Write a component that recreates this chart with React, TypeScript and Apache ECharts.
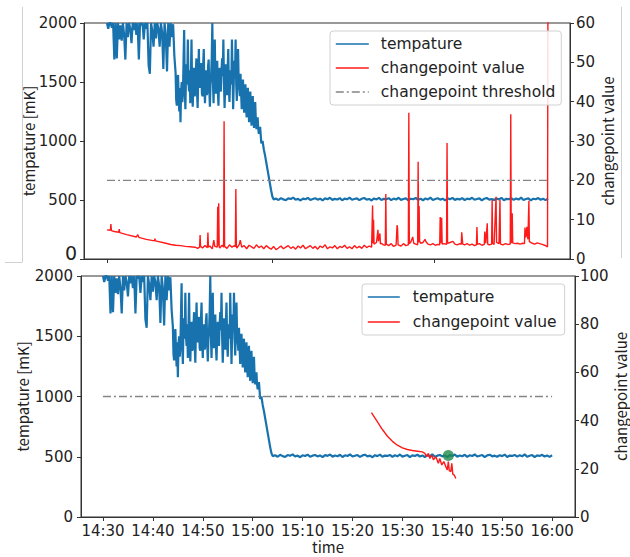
import React, { useEffect, useRef } from "react";
import * as echarts from "echarts";

// ---------------- data ----------------
const TICK_MINUTES = [0, 10, 20, 30, 40, 50, 60, 70, 80, 90];
const TICK_LABELS = ["14:30", "14:40", "14:50", "15:00", "15:10", "15:20", "15:30", "15:40", "15:50", "16:00"];
const TOP_TICK_MINUTES = [0, 33.7, 66.7];

// temperature [mK], minutes after 14:30
const TEMP_EARLY_STEP = 0.25; // t = 0 .. 13.75
const tempEarly = [
  2000, 1950, 2000, 2000, 1960, 2000,
  1690, 2000, 1700, 2000, 1860, 1980, 1850, 2000, 1900, 1690, 2000, 1880, 2000, 1950, 1830, 2000, 1940, 2000, 1900, 2000, 1690, 2000,
  1980, 2000, 1860, 2000, 1950, 2000, 1640, 1570, 2000, 1930, 1800, 2000, 1870, 2000, 1950, 1800, 2000, 1920, 1610, 2000, 1900, 1590, 2000, 1800, 2000, 1880, 1990, 1720,
];
const TEMP_BAND_START = 14.0;
const TEMP_BAND_STEP = 0.125; // t = 14 .. 31
const tempBand = [
  1580, 1350, 1300, 1520, 1560, 1380, 1250, 1450, 1160, 1420,
  1500, 1330, 1400, 1680, 1940, 1450, 1270, 1560, 1650, 1480,
  1860, 1500, 1420, 1600, 1320, 1550, 1860, 1450, 1290, 1500,
  1620, 1380, 1400, 1580, 1700, 1420, 1280, 1550, 1780, 1500,
  1450, 1620, 1660, 1400, 1380, 1640, 1780, 1450, 1320, 1520,
  1600, 1390, 1420, 1630, 1690, 1450, 1290, 1480, 1550, 1700,
  2000, 1500, 1320, 1580, 1860, 1480, 1400, 1620, 1680, 1420,
  1300, 1520, 1620, 1450, 1420, 1600, 1700, 1550, 1860, 1500,
  1280, 1480, 1650, 1420, 1390, 1600, 1780, 1450, 1330, 1520,
  1600, 1480, 1860, 1550, 1270, 1500, 1680, 1550, 1860, 1480,
  1340, 1560, 1780, 1500, 1450, 1380, 1570, 1400, 1270, 1450,
  1520, 1380, 1240, 1420, 1480, 1300, 1200, 1380, 1450, 1280,
  1160, 1320, 1420, 1250, 1130, 1300, 1380, 1220, 1110, 1250,
  1330, 1180, 1100, 1150, 1200, 1100, 1060,
];
const TEMP_DESCENT_START = 31.25;
const TEMP_DESCENT_STEP = 0.25; // t = 31.25 .. 34
const tempDescent = [1120, 980, 1000, 930, 880, 820, 760, 700, 640, 580, 530, 505];
const TEMP_FLAT_START = 34.5;
const TEMP_FLAT_STEP = 0.5; // t = 34.5 .. 90
const tempFlat = [
  512, 500, 516, 505, 498, 514, 508, 520, 502, 510,
  496, 512, 506, 518, 500, 509, 515, 503, 511, 497,
  514, 507, 519, 501, 510, 504, 516, 498, 512, 506,
  520, 502, 508, 514, 499, 511, 517, 503, 509, 496,
  513, 505, 518, 500, 510, 507, 515, 499, 512, 504,
  519, 501, 508, 514, 497, 511, 506, 517, 502, 510,
  498, 513, 505, 520, 500, 509, 515, 503, 511, 496,
  514, 507, 518, 501, 510, 504, 516, 499, 512, 506,
  519, 502, 508, 514, 497, 511, 517, 503, 509, 500,
  513, 505, 518, 498, 510, 507, 515, 501, 512, 504,
  520, 500, 508, 514, 497, 511, 506, 516, 502, 510,
  499, 512,
];

// changepoint value (upper figure): [minute, value]
const cpTop: [number, number][] = [
  [0, 7.4], [0.7, 7.3], [0.8, 8.9], [0.9, 7.2], [1.5, 7.0], [2.4, 6.8], [2.5, 7.6], [2.6, 6.7], [4, 6.2], [6, 5.6], [6.3, 6.2], [6.5, 5.5],
  [8, 5.0], [9.7, 4.6], [9.8, 5.2], [9.9, 4.6], [10, 4.5], [12, 4.0], [13, 3.7], [14, 3.5], [15, 3.4], [16, 3.2], [17, 3.1], [18, 3.0],
  [18.5, 2.7], [18.9, 3.0], [19.0, 6.1], [19.1, 3.2], [19.5, 2.8], [20.0, 3.4], [20.5, 2.9], [20.6, 6.7], [20.7, 3.0], [21.0, 3.3], [21.5, 2.6],
  [21.8, 4.8], [22.0, 3.2], [22.5, 3.0], [22.6, 13.3], [22.7, 3.4], [22.8, 14.2], [22.9, 3.1], [23.0, 2.8], [23.5, 3.5], [23.8, 3.0], [23.9, 35],
  [24.0, 3.2], [24.5, 2.7], [25.0, 3.6], [25.5, 3.0], [26.0, 3.4], [26.2, 3.1], [26.3, 17.8], [26.4, 3.3], [26.5, 2.8], [27.0, 3.7], [27.2, 4.8],
  [27.5, 3.0], [28.0, 3.4], [28.5, 2.6], [29.0, 3.5], [29.5, 3.1], [30.0, 2.7], [30.5, 3.6], [31.0, 2.9], [31.5, 3.3], [32.0, 2.6], [32.5, 3.4],
  [33.0, 2.9], [33.5, 2.5], [34.0, 3.2], [34.5, 2.4], [35.0, 2.8], [35.5, 3.3], [36.0, 2.6], [36.5, 3.0], [37.0, 3.4], [37.5, 2.7], [38.0, 3.1],
  [38.5, 2.5], [39.0, 3.3], [39.5, 2.8], [40.0, 3.5], [40.5, 2.6], [41.0, 3.0], [41.5, 3.4], [42.0, 2.7], [42.5, 3.2], [43.0, 2.5], [43.5, 3.3],
  [44.0, 2.9], [44.5, 3.6], [45.0, 2.6], [45.5, 3.1], [46.0, 2.8], [46.5, 3.4], [47.0, 2.6], [47.5, 3.2], [48.0, 2.9], [48.5, 3.5], [49.0, 2.7],
  [49.5, 3.1], [50.0, 2.6], [50.5, 3.4], [51.0, 2.8], [51.5, 3.2], [52.0, 2.7], [52.5, 3.5], [53.0, 2.9], [53.5, 3.3], [54.0, 3.0],
  [54.2, 13.6], [54.3, 4.0], [54.4, 10.0], [54.5, 3.8], [55.0, 4.2], [55.3, 7.4], [55.4, 4.5], [55.7, 6.5], [55.8, 3.8], [56.0, 4.0], [56.4, 3.6],
  [56.8, 3.5], [56.9, 16.5], [57.0, 3.8], [57.5, 3.4], [58.0, 3.9], [58.5, 3.2], [59.0, 3.5], [59.2, 8.6], [59.3, 7.8], [59.4, 3.6], [60.0, 3.3],
  [60.5, 3.9], [61.0, 3.4], [61.5, 3.6], [61.6, 37.2], [61.7, 3.9], [62.0, 4.3], [62.4, 5.6], [62.6, 4.0], [63.0, 3.8], [63.4, 3.6], [63.5, 24.7],
  [63.6, 4.2], [63.7, 13.5], [63.8, 4.5], [64.0, 4.0], [64.5, 4.2], [64.9, 5.0], [65.1, 4.4], [65.5, 3.8], [66.0, 3.6], [66.5, 3.9], [67.0, 3.5],
  [67.5, 3.7], [67.9, 3.6], [68.0, 10.7], [68.1, 4.0], [68.3, 10.5], [68.4, 3.8], [68.8, 3.9], [69.3, 3.7], [69.4, 29.5], [69.5, 4.0], [70.0, 4.2],
  [70.6, 4.5], [71.0, 3.8], [71.5, 3.6], [72.0, 3.9], [72.3, 3.7], [72.4, 6.8], [72.5, 5.2], [72.6, 3.8], [73.0, 3.6], [73.5, 3.9], [74.0, 3.5],
  [74.5, 3.8], [75.0, 3.4], [75.4, 3.6], [75.5, 8.1], [75.6, 3.7], [76.0, 3.9], [76.5, 3.5], [77.0, 3.7], [77.1, 7.0], [77.3, 4.0], [77.6, 9.1],
  [77.7, 3.8], [78.0, 3.6], [78.5, 3.8], [78.6, 15.0], [78.7, 4.0], [79.0, 3.7], [79.4, 15.8], [79.5, 4.2], [80.0, 3.9], [80.2, 15.0], [80.3, 3.8],
  [80.8, 3.6], [81.3, 3.9], [81.8, 3.7], [82.3, 3.8], [82.4, 36.8], [82.5, 4.0], [82.7, 11.6], [82.8, 4.1], [83.3, 3.9], [83.8, 4.0], [84.3, 3.8],
  [84.8, 4.0], [85.2, 3.9], [85.3, 8.0], [85.5, 5.5], [85.7, 8.2], [85.9, 5.0], [86.1, 14.8], [86.2, 4.4], [86.8, 4.0], [87.3, 3.8], [87.8, 4.1],
  [88.3, 3.9], [88.8, 3.7], [89.3, 3.5], [89.9, 3.1], [90.0, 75],
];

// changepoint value (lower figure): [minute, value]
const cpBottom: [number, number][] = [
  [53.8, 43.3], [55.0, 39.5], [56.0, 36.3], [57.0, 33.5], [58.0, 31.4], [59.0, 29.8], [60.0, 28.7], [61.0, 28.0], [62.0, 27.6],
  [63.0, 27.3], [64.0, 27.0], [64.5, 26.4], [64.87, 25.0], [65.2, 26.4], [65.5, 24.3], [65.9, 25.7], [66.2, 23.7], [66.7, 25.0],
  [67.2, 22.3], [67.5, 24.3], [67.9, 21.6], [68.3, 23.0], [68.7, 20.9], [69.0, 19.5], [69.2, 23.0], [69.4, 19.2], [69.7, 18.8],
  [69.9, 22.3], [70.1, 17.8], [70.4, 17.4], [70.7, 16.0],
];

const thresholdTimes = [0, 90];
const THRESHOLD_TOP = 20;
const THRESHOLD_BOTTOM = 50;
const detectedPoint: [number, number][] = [[69.2, 510]];

// ---------------- chart ----------------
const FONT = "DejaVu Sans";
const NAME_FONT = "Noto Sans CJK JP";
const AXIS = "#333";
const TXT = "#222";
const BLUE = "#1772ae";
const RED = "#ff1a1a";
const GREY = "#858585";

const tempData = [
  ...tempEarly.map((v, i) => [i * TEMP_EARLY_STEP, v]),
  ...tempBand.map((v, i) => [TEMP_BAND_START + i * TEMP_BAND_STEP, v]),
  ...tempDescent.map((v, i) => [TEMP_DESCENT_START + i * TEMP_DESCENT_STEP, v]),
  ...tempFlat.map((v, i) => [TEMP_FLAT_START + i * TEMP_FLAT_STEP, v]),
];

const axisLine = { show: true, onZero: false, lineStyle: { color: AXIS, width: 1 } };
const axisTick = { show: true, length: 4, lineStyle: { color: AXIS, width: 1 } };
const tickLabel = { fontSize: 15, fontFamily: FONT, color: TXT };
const nameStyle = { fontSize: 15, fontFamily: NAME_FONT, color: TXT };

function timeLabel(v: number) {
  const i = TICK_MINUTES.indexOf(v);
  return i >= 0 ? TICK_LABELS[i] : "";
}

const legendCommon = {
  orient: "vertical",
  borderColor: "#d0d0d0", borderWidth: 1, borderRadius: 3, backgroundColor: "rgba(255,255,255,0.85)",
  itemStyle: { opacity: 0 },
  lineStyle: { width: 1.6 },
  selectedMode: false,
};

const option: any = {
  animation: false,
  backgroundColor: "#fff",
  grid: [
    { left: 84, top: 23, width: 486, height: 236, outerBoundsMode: "none", containLabel: false, show: true, borderColor: AXIS, borderWidth: 1, backgroundColor: "transparent" },
    { left: 81, top: 276, width: 494, height: 241, outerBoundsMode: "none", containLabel: false, show: true, borderColor: AXIS, borderWidth: 1, backgroundColor: "transparent" },
  ],
  xAxis: [
    {
      type: "value", gridIndex: 0, min: -4.69, max: 94.49,
      axisLine, axisTick: { ...axisTick, customValues: TOP_TICK_MINUTES },
      axisLabel: { show: false }, splitLine: { show: false },
    },
    {
      type: "value", gridIndex: 1, min: -4.41, max: 94.59,
      name: "time", nameLocation: "middle", nameGap: 21, nameTextStyle: nameStyle,
      axisLine, axisTick: { ...axisTick, customValues: TICK_MINUTES },
      axisLabel: { ...tickLabel, customValues: TICK_MINUTES, margin: 6, formatter: timeLabel },
      splitLine: { show: false },
    },
  ],
  yAxis: [
    {
      type: "value", gridIndex: 0, position: "left", min: 0, max: 2000, interval: 500,
      name: "tempature [mK]", nameLocation: "middle", nameRotate: 90, nameGap: 48, nameMoveOverlap: false, nameTextStyle: nameStyle,
      axisLine, axisTick, splitLine: { show: false },
      axisLabel: {
        ...tickLabel, margin: 7,
        formatter: (v: number) => (v === 0 ? "{big|0}" : String(v)),
        rich: { big: { fontSize: 19, fontFamily: FONT, color: TXT, padding: [0, 0, 12, 0] } },
      },
    },
    {
      type: "value", gridIndex: 0, position: "right", min: 0, max: 60, interval: 10,
      name: "changepoint value", nameLocation: "middle", nameRotate: 90, nameGap: 30, nameMoveOverlap: false, nameTextStyle: nameStyle,
      axisLine, axisTick, splitLine: { show: false }, axisLabel: { ...tickLabel, margin: 6 },
    },
    {
      type: "value", gridIndex: 1, position: "left", min: 0, max: 2000, interval: 500,
      name: "tempature [mK]", nameLocation: "middle", nameRotate: 90, nameGap: 51, nameMoveOverlap: false, nameTextStyle: nameStyle,
      axisLine, axisTick, splitLine: { show: false },
      axisLabel: { ...tickLabel, margin: 8, formatter: (v: number) => String(v) },
    },
    {
      type: "value", gridIndex: 1, position: "right", min: 0, max: 100, interval: 20,
      name: "changepoint value", nameLocation: "middle", nameRotate: 90, nameGap: 38, nameMoveOverlap: false, nameTextStyle: nameStyle,
      axisLine, axisTick, splitLine: { show: false }, axisLabel: { ...tickLabel, margin: 5 },
    },
  ],
  legend: [
    {
      ...legendCommon,
      left: 330, top: 31,
      data: ["tempature", "changepoint value", "changepoint threshold"],
      itemWidth: 33, itemHeight: 16, itemGap: 8, padding: [5, 6, 5, 5],
      textStyle: { fontSize: 15.5, fontFamily: FONT, color: TXT, padding: [0, 0, 0, 7] },
    },
    {
      ...legendCommon,
      left: 362, top: 284,
      data: ["tempature", "changepoint value"],
      itemWidth: 32, itemHeight: 16, itemGap: 9, padding: [5, 8, 5, 5],
      textStyle: { fontSize: 15.5, fontFamily: FONT, color: TXT, padding: [0, 0, 0, 8] },
    },
  ],
  graphic: [
    { type: "line", shape: { x1: 22.5, y1: 7, x2: 22.5, y2: 262 }, style: { stroke: "#d0d0d0", lineWidth: 1 } },
    { type: "line", shape: { x1: 5, y1: 262.5, x2: 22.5, y2: 262.5 }, style: { stroke: "#d0d0d0", lineWidth: 1 } },
    { type: "line", shape: { x1: 621.5, y1: 7, x2: 621.5, y2: 258 }, style: { stroke: "#d0d0d0", lineWidth: 1 } },
  ],
  series: [
    {
      name: "tempature", type: "line", xAxisIndex: 0, yAxisIndex: 0, data: tempData,
      symbol: "none", lineStyle: { color: BLUE, width: 2.2 }, itemStyle: { color: BLUE },
    },
    {
      name: "changepoint value", type: "line", xAxisIndex: 0, yAxisIndex: 1, data: cpTop,
      symbol: "none", lineStyle: { color: RED, width: 1.4 }, itemStyle: { color: RED },
    },
    {
      name: "changepoint threshold", type: "line", xAxisIndex: 0, yAxisIndex: 1,
      data: thresholdTimes.map((t) => [t, THRESHOLD_TOP]),
      symbol: "none", lineStyle: { color: GREY, width: 1.3, type: [8, 3, 2, 3] }, itemStyle: { color: GREY },
    },
    {
      name: "tempature", type: "line", xAxisIndex: 1, yAxisIndex: 2, data: tempData,
      symbol: "none", lineStyle: { color: BLUE, width: 2.2 }, itemStyle: { color: BLUE },
    },
    {
      name: "changepoint threshold", type: "line", xAxisIndex: 1, yAxisIndex: 3,
      data: thresholdTimes.map((t) => [t, THRESHOLD_BOTTOM]),
      symbol: "none", lineStyle: { color: GREY, width: 1.3, type: [8, 3, 2, 3] }, itemStyle: { color: GREY },
    },
    {
      name: "changepoint value", type: "line", xAxisIndex: 1, yAxisIndex: 3, data: cpBottom,
      symbol: "none", lineStyle: { color: RED, width: 1.4 }, itemStyle: { color: RED },
    },
    {
      name: "detected", type: "scatter", xAxisIndex: 1, yAxisIndex: 2, data: detectedPoint,
      symbolSize: 11, itemStyle: { color: "#1e8a4c" }, z: 5,
    },
  ],
};

export default function App() {
  const ref = useRef<HTMLDivElement>(null);
  useEffect(() => {
    const chart = echarts.init(ref.current!, null, { renderer: "svg" });
    chart.setOption(option);
    return () => chart.dispose();
  }, []);
  return <div ref={ref} style={{ position: "fixed", left: 0, top: 0, width: 630, height: 557 }} />;
}
